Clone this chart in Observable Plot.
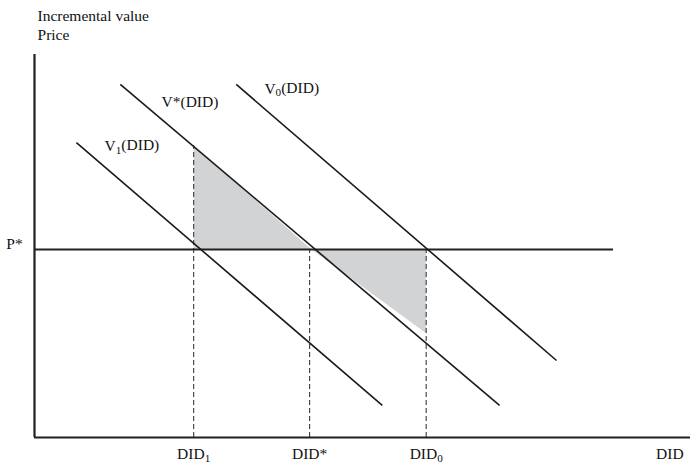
<!DOCTYPE html>
<html>
<head>
<meta charset="utf-8">
<script src="https://cdn.jsdelivr.net/npm/d3@7"></script>
<script src="https://cdn.jsdelivr.net/npm/@observablehq/plot@0.6"></script>
<style>
  html, body { margin: 0; padding: 0; background: #fff; }
</style>
</head>
<body>
<div id="chart"></div>
<script>
// Value curves (straight lines): start and end points in chart units
const curveNames = ["V_1(DID)", "V*(DID)", "V_0(DID)"];
const curveX0 = [6.4, 13.1, 30.8];
const curveY0 = [77.0, 92.2, 92.2];
const curveX1 = [53.1, 71.0, 79.7];
const curveY1 = [8.4, 8.4, 20.1];

// Curve label positions
const labelX = [10.7, 19.4, 35.1];
const labelY = [74.7, 86.4, 89.8];

// Price level
const pStar = 49.1;
const pStarEnd = 88.4;

// DID quantities on the x axis (dashed guides)
const didLabels = ["DID_1", "DID*", "DID_0"];
const didX = [24.3, 42.0, 59.8];
const didTop = [76.2, 49.1, 49.1];

// Shaded triangles (vertices)
const shadeAX = [24.3, 24.3, 42.3];
const shadeAY = [76.2, 49.1, 49.1];
const shadeBX = [42.3, 59.8, 59.8];
const shadeBY = [49.1, 49.1, 27.2];

// Axis titles
const yTitles = ["Incremental value", "Price"];
const yTitleY = [108.7, 103.9];
const xTitle = "DID";

const curves = curveNames.map((n, i) => ({name: n, x1: curveX0[i], y1: curveY0[i], x2: curveX1[i], y2: curveY1[i], lx: labelX[i], ly: labelY[i]}));
const dids = didLabels.map((n, i) => ({name: n, x: didX[i], top: didTop[i]}));
const shadeA = shadeAX.map((x, i) => ({x, y: shadeAY[i]}));
const shadeB = shadeBX.map((x, i) => ({x, y: shadeBY[i]}));

const font = "Liberation Serif, Times New Roman, serif";
const fs = 15.5;

const plot = Plot.plot({
  width: 690,
  height: 463,
  margin: 0,
  x: {domain: [0, 100], range: [34, 689]},
  y: {domain: [0, 100], range: [437, 54]},
  axis: null,
  style: {fontFamily: font, fontSize: fs + "px", background: "#fff"},
  marks: [
    Plot.line(shadeA, {x: "x", y: "y", fill: "#d2d3d5", stroke: null}),
    Plot.line(shadeB, {x: "x", y: "y", fill: "#d2d3d5", stroke: null}),
    Plot.ruleX(dids, {x: "x", y1: 0, y2: "top", stroke: "#3a3a3a", strokeWidth: 1.1, strokeDasharray: "5,3"}),
    Plot.ruleY([pStar], {x1: 0, x2: pStarEnd, stroke: "#222", strokeWidth: 2}),
    Plot.link(curves, {x1: "x1", y1: "y1", x2: "x2", y2: "y2", stroke: "#1a1a1a", strokeWidth: 1.6}),
    Plot.ruleX([0], {y1: 0, y2: 100, stroke: "#231f20", strokeWidth: 2.2}),
    Plot.ruleY([0], {x1: 0, x2: 100.2, stroke: "#231f20", strokeWidth: 2.2}),
    Plot.text(curves, {x: "lx", y: "ly", text: "name", textAnchor: "start", lineAnchor: "bottom", fontFamily: font, fontSize: fs, fill: "#111"}),
    Plot.text(dids, {x: "x", y: -5.7, text: "name", textAnchor: "middle", lineAnchor: "bottom", fontFamily: font, fontSize: fs, fill: "#111"}),
    Plot.text([xTitle], {x: 99.1, y: -5.7, text: d => d, textAnchor: "end", lineAnchor: "bottom", fontFamily: font, fontSize: fs, fill: "#111"}),
    Plot.text(["P*"], {x: -4.3, y: pStar, text: d => d, textAnchor: "start", lineAnchor: "bottom", fontFamily: font, fontSize: fs, fill: "#111"}),
    Plot.text(yTitles, {x: 0.46, y: (d, i) => yTitleY[i], text: d => d, textAnchor: "start", lineAnchor: "bottom", fontFamily: font, fontSize: fs, fill: "#111"})
  ]
});

// Render subscripts (marked with "_") as real tspans
d3.select(plot).selectAll("text").each(function() {
  const t = this.textContent;
  const m = t.match(/^(.*?)_(\d)(.*)$/);
  if (!m) return;
  const el = d3.select(this);
  el.text(null);
  el.append("tspan").text(m[1]);
  el.append("tspan").attr("font-size", "0.72em").attr("dy", "0.22em").text(m[2]);
  if (m[3]) el.append("tspan").attr("dy", "-0.22em").text(m[3]);
});

document.getElementById("chart").appendChild(plot);
</script>
</body>
</html>
